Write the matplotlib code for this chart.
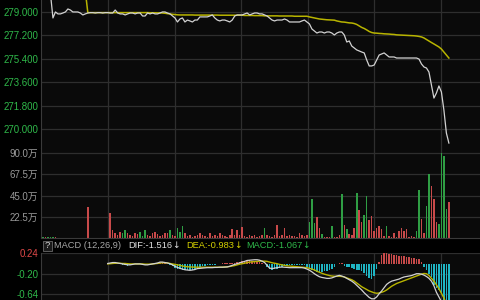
import numpy as np
import matplotlib
matplotlib.use('Agg')
import matplotlib.pyplot as plt
from matplotlib.patches import Rectangle

plt.rcParams['font.family'] = ['Liberation Sans', 'Noto Sans CJK SC', 'DejaVu Sans']

# ---- data (one point per minute, index 0..163) ----
price_start = 3
price = [280.40, 278.54, 279.00, 278.85, 278.85, 278.92, 279.00, 279.23, 279.15, 279.00,
         279.00, 279.00, 278.92, 278.77, 278.85, 278.92, 278.95, 278.95, 278.92, 278.95,
         278.95, 278.92, 278.95, 278.95, 278.92, 278.92, 279.15, 278.92, 278.85, 278.85,
         278.77, 278.85, 278.92, 278.92, 278.85, 278.92, 278.92, 278.69, 278.69, 278.92,
         278.85, 278.92, 278.85, 278.85, 278.92, 279.00, 279.00, 278.92, 278.85, 278.69,
         278.54, 278.23, 278.46, 278.54, 278.23, 278.38, 278.31, 278.23, 278.38, 278.38,
         278.62, 278.62, 278.62, 278.62, 278.69, 278.77, 278.54, 278.38, 278.31, 278.38,
         278.38, 278.31, 278.23, 278.38, 278.69, 278.77, 278.77, 278.77, 278.85, 278.92,
         278.77, 278.85, 278.92, 278.92, 278.85, 278.85, 278.77, 278.69, 278.54, 278.38,
         278.31, 278.38, 278.38, 278.38, 278.46, 278.38, 278.23, 278.23, 278.23, 278.23,
         278.23, 278.31, 278.38, 278.23, 278.08, 277.69, 277.54, 277.38, 277.46, 277.46,
         277.38, 277.46, 277.46, 277.38, 277.23, 277.38, 277.46, 277.46, 277.23, 276.69,
         276.77, 276.38, 276.23, 276.08, 276.00, 275.92, 275.85, 275.31, 274.85, 274.85,
         274.92, 275.31, 275.69, 275.77, 275.85, 275.69, 275.54, 275.54, 275.54, 275.46,
         275.46, 275.46, 275.46, 275.46, 275.46, 275.46, 275.46, 275.46, 275.38, 275.00,
         274.77, 274.69, 274.38, 273.38, 272.38, 272.77, 273.31, 272.85, 271.46, 269.69,
         268.92]

avg_start = 17
avg_price = [280.60,
             278.95, 278.95, 278.95, 278.95, 278.95, 278.95, 278.95, 278.95, 278.95, 278.95,
             278.95, 278.95, 278.95, 278.95, 278.95, 278.95, 278.95, 278.95, 278.95, 278.95,
             278.95, 278.95, 278.95, 278.95, 278.95, 278.94, 278.94, 278.94, 278.93, 278.93,
             278.92, 278.90, 278.87, 278.85, 278.82, 278.80, 278.78, 278.77,
             278.77, 278.77, 278.77, 278.77, 278.77, 278.76, 278.76, 278.76, 278.76, 278.76,
             278.76, 278.76, 278.76, 278.76, 278.76, 278.75, 278.75, 278.75, 278.75, 278.75,
             278.75, 278.75, 278.75, 278.75, 278.75,
             278.73, 278.73, 278.73, 278.73, 278.72, 278.72, 278.72, 278.72,
             278.70, 278.70, 278.70, 278.70, 278.70, 278.70, 278.69, 278.69, 278.69, 278.69,
             278.69, 278.69, 278.67, 278.67, 278.67, 278.67, 278.67, 278.67,
             278.62, 278.58, 278.54, 278.50, 278.46, 278.44, 278.42, 278.40, 278.39, 278.38,
             278.37, 278.31, 278.27, 278.23, 278.22, 278.19, 278.16, 278.15, 278.11, 278.04,
             277.92, 277.81, 277.73, 277.62, 277.50, 277.42, 277.38, 277.37, 277.35, 277.34,
             277.32, 277.31, 277.30, 277.28, 277.27, 277.24, 277.23, 277.22, 277.21, 277.20,
             277.19, 277.18, 277.17, 277.15, 277.12, 277.08, 277.00, 276.88, 276.77, 276.65,
             276.54, 276.42, 276.31, 276.15, 275.92, 275.69, 275.46]

# volume in 万, with up (1 = red) / down (0 = green)
volume = [1.0, 0.8, 1.2, 0.8, 1.0, 0.6, 0, 0, 0, 0,
          0, 0, 0, 0, 0, 0, 0, 0, 32.3, 0,
          0, 0, 0, 0, 0, 0, 0, 26.4, 8.5, 5,
          3, 6, 5, 8.5, 5, 3, 2, 5, 4, 6,
          2, 8.5, 3, 2, 5, 6, 4, 2, 3, 5,
          5, 8.5, 3, 2, 10.5, 6, 12.7, 5, 2, 3,
          1, 2, 3, 5, 3, 2, 1, 5, 2, 3,
          2, 5, 3, 2, 1, 3, 9.5, 3, 8, 3,
          11.6, 2, 1, 3, 2, 3, 1, 2, 3, 10.5,
          3, 2, 1, 3, 13.7, 2, 3, 10.5, 2, 3,
          2, 2, 1, 5, 3, 2, 3, 16.9, 40.9, 15.5,
          21.9, 10.2, 4.2, 1, 1, 1, 12.7, 1.5, 1, 3,
          46.9, 13.4, 9.2, 3.9, 2.8, 11, 48, 30, 16.9, 24,
          44, 18.7, 22.9, 7.4, 11, 12.3, 9.2, 2, 12.7, 2,
          1, 5.6, 1, 7.4, 11, 7.7, 9.2, 1, 2.5, 1,
          7.4, 51.1, 19.7, 5, 33.8, 68, 54.6, 41.6, 16.9, 14.5,
          89.7, 87.3, 31, 38]
vol_up = [0, 1, 0, 0, 0, 1, 1, 1, 1, 1,
          1, 1, 1, 1, 1, 1, 1, 1, 1, 1,
          1, 1, 1, 1, 1, 1, 1, 1, 1, 1,
          1, 1, 0, 0, 1, 1, 1, 1, 1, 0,
          0, 0, 1, 1, 1, 1, 1, 1, 1, 1,
          1, 0, 1, 1, 0, 0, 0, 1, 1, 1,
          1, 1, 1, 1, 1, 1, 1, 1, 1, 1,
          1, 1, 1, 1, 1, 1, 1, 1, 1, 1,
          1, 1, 1, 1, 1, 1, 1, 1, 1, 0,
          1, 1, 1, 1, 1, 1, 1, 1, 1, 1,
          1, 1, 1, 1, 1, 1, 1, 0, 0, 0,
          1, 1, 0, 1, 1, 1, 0, 1, 1, 1,
          0, 1, 0, 1, 1, 1, 0, 1, 1, 0,
          0, 1, 1, 1, 1, 1, 1, 1, 0, 1,
          1, 1, 1, 1, 1, 1, 1, 1, 1, 1,
          0, 0, 1, 1, 0, 0, 1, 1, 1, 0,
          0, 0, 0, 1]

macd_start = 26
dif = [0.02, 0.03, 0.04, 0.04, 0.03, 0.02, 0.01, 0.00, -0.01, -0.01,
       0.00, 0.01, 0.01, 0.01, 0.00, -0.01, -0.01, 0.00, 0.01, 0.02,
       0.03, 0.05, 0.05, 0.04, 0.03, 0.015, -0.01, -0.04, -0.065, -0.085,
       -0.10, -0.115, -0.12, -0.127, -0.12, -0.11, -0.09, -0.085, -0.08, -0.075,
       -0.07, -0.07, -0.07, -0.065, -0.065, -0.06, -0.06, -0.057, -0.055, -0.04,
       -0.02, 0.00, 0.015, 0.035, 0.05, 0.065, 0.085, 0.09, 0.095, 0.10,
       0.10, 0.09, 0.07, 0.04, -0.02, -0.08, -0.09, -0.08, -0.07, -0.06,
       -0.057, -0.06, -0.065, -0.07, -0.07, -0.07, -0.07, -0.07, -0.07, -0.08,
       -0.10, -0.125, -0.16, -0.20, -0.235, -0.265, -0.28, -0.29, -0.30, -0.30,
       -0.29, -0.27, -0.25, -0.235, -0.25, -0.27, -0.30, -0.33, -0.36, -0.40,
       -0.45, -0.50, -0.55, -0.61, -0.66, -0.71, -0.74, -0.74, -0.70, -0.63,
       -0.57, -0.50, -0.43, -0.39, -0.36, -0.345, -0.33, -0.315, -0.29, -0.27,
       -0.26, -0.25, -0.24, -0.22, -0.20, -0.20, -0.21, -0.23, -0.26, -0.30,
       -0.36, -0.46, -0.60, -0.70, -0.80, -1.00, -1.25, -1.516]
dea = [0.01, 0.015, 0.02, 0.025, 0.025, 0.025, 0.02, 0.02, 0.015, 0.01,
       0.01, 0.01, 0.01, 0.01, 0.01, 0.005, 0.005, 0.005, 0.01, 0.015,
       0.02, 0.03, 0.035, 0.035, 0.03, 0.02, 0.01, 0.00, -0.01, -0.02,
       -0.035, -0.045, -0.05, -0.055, -0.057, -0.06, -0.06, -0.06, -0.06, -0.06,
       -0.06, -0.06, -0.06, -0.06, -0.06, -0.06, -0.06, -0.055, -0.05, -0.045,
       -0.035, -0.025, -0.01, 0.005, 0.015, 0.025, 0.04, 0.05, 0.055, 0.06,
       0.065, 0.07, 0.07, 0.07, 0.065, 0.05, 0.035, 0.025, 0.015, 0.00,
       -0.01, -0.02, -0.03, -0.035, -0.04, -0.045, -0.05, -0.055, -0.06, -0.065,
       -0.07, -0.085, -0.10, -0.12, -0.145, -0.17, -0.19, -0.21, -0.225, -0.24,
       -0.25, -0.255, -0.255, -0.255, -0.26, -0.27, -0.29, -0.31, -0.33, -0.36,
       -0.40, -0.44, -0.48, -0.51, -0.54, -0.57, -0.59, -0.61, -0.62, -0.615,
       -0.60, -0.58, -0.55, -0.51, -0.47, -0.44, -0.41, -0.39, -0.37, -0.35,
       -0.33, -0.31, -0.29, -0.27, -0.25, -0.23, -0.21, -0.195, -0.20, -0.24,
       -0.30, -0.36, -0.44, -0.52, -0.62, -0.72, -0.85, -0.983]
macd_hist = [0.02, 0.03, 0.04, 0.03, 0.01, 0.00, -0.01, -0.02, -0.03, -0.02,
             0.00, 0.01, 0.00, 0.00, -0.01, -0.01, 0.00, 0.01, 0.01, 0.02,
             0.02, 0.04, 0.03, 0.02, 0.01, -0.01, -0.04, -0.07, -0.09, -0.10,
             -0.11, -0.12, -0.12, -0.12, -0.11, -0.10, -0.07, -0.05, -0.04, -0.03,
             -0.02, -0.02, -0.02, -0.01, 0.01, 0.01, 0.02, 0.02, 0.03, 0.02,
             0.03, 0.04, 0.05, 0.06, 0.07, 0.08, 0.09, 0.09, 0.08, 0.08,
             0.07, 0.06, 0.04, 0.01, -0.06, -0.10, -0.11, -0.10, -0.09, -0.07,
             -0.05, -0.04, -0.03, -0.02, -0.02, -0.02, -0.01, -0.01, -0.01, -0.02,
             -0.05, -0.08, -0.11, -0.14, -0.16, -0.17, -0.16, -0.15, -0.14, -0.12,
             -0.09, -0.05, 0.01, 0.03, 0.02, -0.03, -0.05, -0.06, -0.07, -0.09,
             -0.11, -0.13, -0.15, -0.19, -0.24, -0.30, -0.32, -0.25, -0.10, 0.05,
             0.20, 0.245, 0.24, 0.23, 0.22, 0.21, 0.20, 0.19, 0.18, 0.17,
             0.16, 0.15, 0.14, 0.13, 0.12, 0.11, 0.05, -0.05, -0.13, -0.20,
             -0.28, -0.45, -0.50, -0.55, -0.62, -0.78, -0.90, -1.067]

price_ticks = [279.0, 277.2, 275.4, 273.6, 271.8, 270.0]
vol_ticks = [22.5, 45.0, 67.5, 90.0]
macd_ticks = [0.24, -0.20, -0.64]
time_grid = [26.1, 53.0, 79.6, 106.4, 133.0, 159.8]

# ---- style ----
BG = '#0a0a0a'
GRID = '#2e2e2e'
WHITE = '#d2d2d2'
YELLOW = '#b8b400'
RED = '#c84a4a'
GREEN = '#2f9e44'
CYAN = '#1fb5c4'
LBL_GREEN = '#2fb84a'

W, H = 480, 300
fig = plt.figure(figsize=(W / 100, H / 100), dpi=100, facecolor='black')


def panel(x0, y0, x1, y1):
    ax = fig.add_axes([x0 / W, 1 - y1 / H, (x1 - x0) / W, (y1 - y0) / H])
    ax.set_facecolor(BG)
    for s in ['top', 'right', 'bottom']:
        ax.spines[s].set_visible(False)
    ax.spines['left'].set_color('#3a3a3a')
    ax.set_xlim(-0.8, 175.5)
    ax.set_xticks(time_grid)
    ax.set_xticklabels([])
    ax.tick_params(length=0, pad=2)
    ax.grid(True, color=GRID, lw=0.9)
    ax.set_axisbelow(True)
    return ax


ax_p = panel(41, 0, 480, 148)
ax_v = panel(41, 148, 480, 238)
ax_m = panel(41, 253, 480, 300)

# price panel
xp = np.arange(price_start, price_start + len(price))
xa = np.arange(avg_start, avg_start + len(avg_price))
ax_p.plot(xa, avg_price, color=YELLOW, lw=1.1)
ax_p.plot(xp, price, color=WHITE, lw=0.9)
ax_p.set_ylim(268.54, 279.92)
ax_p.set_yticks(price_ticks)
ax_p.set_yticklabels(['%.3f' % t for t in price_ticks], color=LBL_GREEN, fontsize=7)

# volume panel
xv = np.arange(len(volume))
vcol = [RED if u else GREEN for u in vol_up]
ax_v.bar(xv, volume, width=0.62, color=vcol, linewidth=0)
ax_v.set_ylim(0, 95.3)
ax_v.set_yticks(vol_ticks)
ax_v.set_yticklabels(['%.1f万' % t for t in vol_ticks], color='#9a9a9a', fontsize=7)
ax_v.spines['bottom'].set_visible(True)
ax_v.spines['bottom'].set_color('#3a3a3a')

# macd panel
xm = np.arange(macd_start, macd_start + len(dif))
hcol = [RED if h > 0 else CYAN for h in macd_hist]
ax_m.bar(xm, macd_hist, width=0.62, color=hcol, linewidth=0)
ax_m.plot(xm, dea, color=YELLOW, lw=1.0)
ax_m.plot(xm, dif, color=WHITE, lw=0.9)
ax_m.set_ylim(-0.765, 0.245)
ax_m.set_yticks(macd_ticks)
ax_m.set_yticklabels(['%.2f' % t for t in macd_ticks], fontsize=7)
for lab, t in zip(ax_m.get_yticklabels(), macd_ticks):
    lab.set_color('#e04848' if t > 0 else LBL_GREEN)

# macd title row
ROW_Y = 1 - 246 / H
fig.patches.append(Rectangle((43 / W, 1 - 251 / H), 9 / W, 10 / H, transform=fig.transFigure,
                             facecolor='#1a1a1a', edgecolor='#6a6a6a', lw=0.6))
fig.text(47.5 / W, ROW_Y, '?', color='#cfcfcf', fontsize=6.8, ha='center', va='center')
fig.text(54 / W, ROW_Y, 'MACD (12,26,9)', color='#a8a8a8', fontsize=6.7, va='center')


def label_with_arrow(x, text, color):
    t = fig.text(x / W, ROW_Y, text, color=color, fontsize=6.7, va='center')
    # arrow in DejaVu, placed right after the label text
    ax_m.annotate('↓', xy=(1, 0.5), xycoords=t, xytext=(0.2, 0),
                  textcoords='offset points', va='center', ha='left',
                  color=color, fontsize=6.5, family='DejaVu Sans',
                  annotation_clip=False)


label_with_arrow(128, 'DIF:%.3f' % dif[-1], '#e0e0e0')
label_with_arrow(186, 'DEA:%.3f' % dea[-1], '#d4d000')
label_with_arrow(246, 'MACD:%.3f' % macd_hist[-1], '#2fb84a')

fig.savefig('out.png', dpi=100, facecolor='black')
